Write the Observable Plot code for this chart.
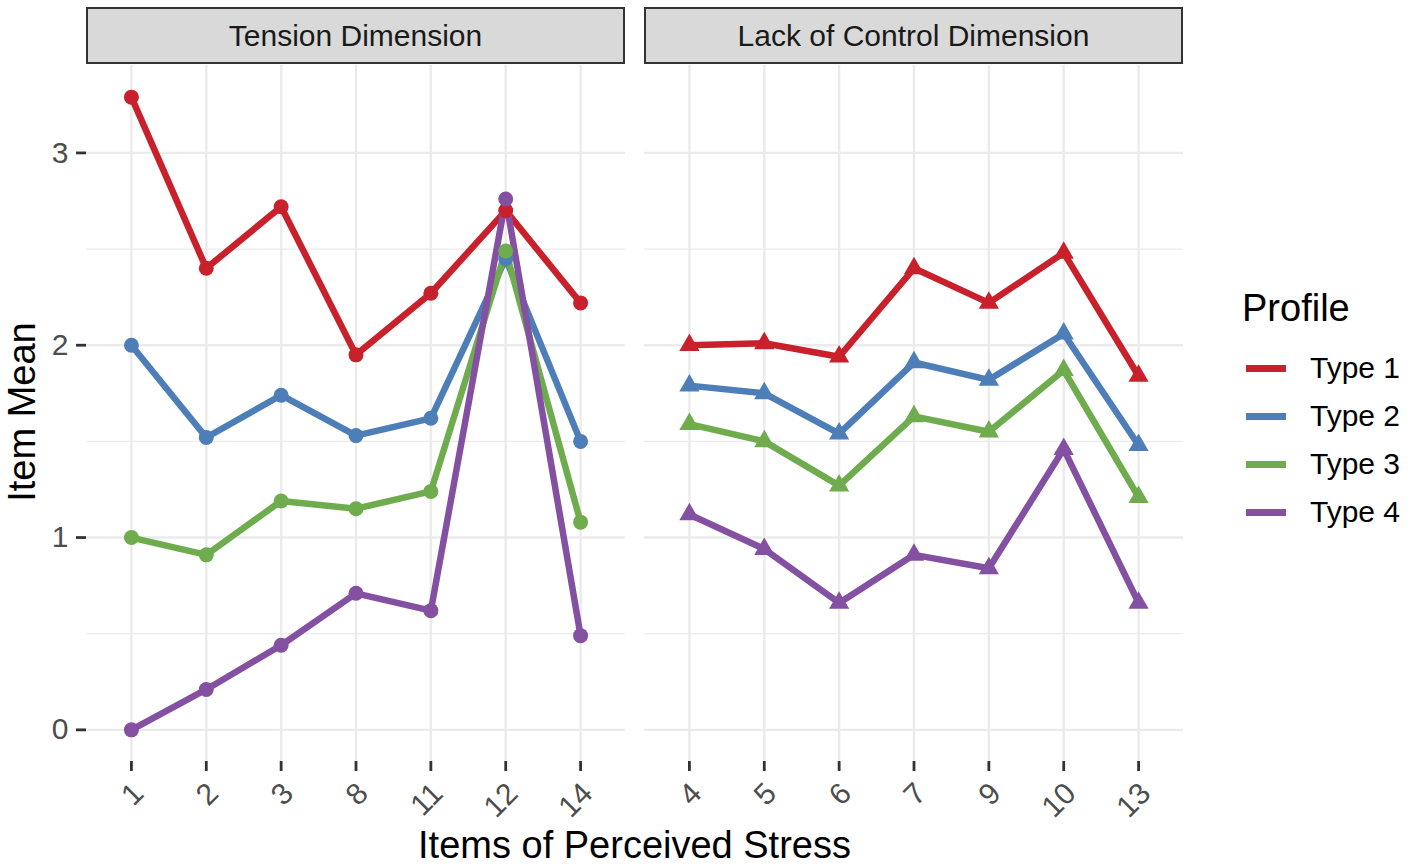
<!DOCTYPE html>
<html>
<head>
<meta charset="utf-8">
<script src="https://cdn.jsdelivr.net/npm/d3@7"></script>
<script src="https://cdn.jsdelivr.net/npm/@observablehq/plot@0.6"></script>
<style>
  body { margin: 0; background: #ffffff; }
  #root { position: relative; width: 1409px; height: 866px; font-family: "Liberation Sans", Arial, sans-serif; overflow: hidden; }
  .strip { position: absolute; top: 7px; height: 57px; width: 539px; box-sizing: border-box; background: #d9d9d9; border: 2.5px solid #333333; color: #1a1a1a; font-size: 30px; display: flex; align-items: center; justify-content: center; }
  .legrow { position: absolute; left: 1246px; height: 40px; display: flex; align-items: center; }
  .legkey { width: 40px; height: 7px; }
  .leglab { margin-left: 24px; font-size: 30px; color: #000; }
</style>
</head>
<body>
<div id="root"></div>
<script>
// ---- data ----
const tensionItems = ["1", "2", "3", "8", "11", "12", "14"];
const controlItems = ["4", "5", "6", "7", "9", "10", "13"];
const types = ["Type 1", "Type 2", "Type 3", "Type 4"];
const typeColors = ["#c9212b", "#4e7eb8", "#6fac4e", "#8450a2"];
const tension1 = [3.29, 2.40, 2.72, 1.95, 2.27, 2.70, 2.22];
const tension2 = [2.00, 1.52, 1.74, 1.53, 1.62, 2.45, 1.50];
const tension3 = [1.00, 0.91, 1.19, 1.15, 1.24, 2.49, 1.08];
const tension4 = [0.00, 0.21, 0.44, 0.71, 0.62, 2.76, 0.49];
const control1 = [2.00, 2.01, 1.94, 2.40, 2.22, 2.48, 1.84];
const control2 = [1.79, 1.75, 1.54, 1.91, 1.82, 2.06, 1.48];
const control3 = [1.59, 1.50, 1.27, 1.63, 1.55, 1.87, 1.21];
const control4 = [1.12, 0.94, 0.66, 0.91, 0.84, 1.46, 0.66];
const yTicks = [0, 1, 2, 3];
const yMinor = [0.5, 1.5, 2.5];
const panelTitles = ["Tension Dimension", "Lack of Control Dimension"];
const xTitle = "Items of Perceived Stress";
const yTitle = "Item Mean";
const legendTitle = "Profile";

function buildRows(items, seriesList) {
  const rows = [];
  seriesList.forEach((vals, t) => {
    items.forEach((it, i) => rows.push({ item: it, type: types[t], value: vals[i] }));
  });
  return rows;
}
const tensionRows = buildRows(tensionItems, [tension1, tension2, tension3, tension4]);
const controlRows = buildRows(controlItems, [control1, control2, control3, control4]);

const allVals = tensionRows.concat(controlRows).map(d => d.value);
const yMin = d3.min(allVals), yMax = d3.max(allVals);
const ex = (yMax - yMin) * 0.05;
const yDomain = [yMin - ex, yMax + ex];

function panel(items, rows, symbol, withYAxis, mLeft) {
  return Plot.plot({
    width: mLeft + 539 + 10,
    height: 866,
    marginLeft: mLeft,
    marginRight: 10,
    marginTop: 65,
    marginBottom: 105,
    style: { fontFamily: "Liberation Sans, Arial, sans-serif", background: "transparent", overflow: "visible" },
    x: { type: "point", domain: items, padding: 0.6, round: false, label: null, axis: null },
    y: { domain: yDomain, label: null, axis: null },
    color: { domain: types, range: typeColors },
    marks: [
      Plot.gridY(yMinor, { stroke: "#ebebeb", strokeOpacity: 1, strokeWidth: 1.2 }),
      Plot.gridY(yTicks, { stroke: "#ebebeb", strokeOpacity: 1, strokeWidth: 2.4 }),
      Plot.gridX(items, { stroke: "#ebebeb", strokeOpacity: 1, strokeWidth: 2.4 }),
      Plot.line(rows, { x: "item", y: "value", z: "type", stroke: "type", strokeWidth: 6.5, strokeLinejoin: "round", strokeLinecap: "butt" }),
      Plot.dot(rows, { x: "item", y: "value", fill: "type", r: 7.5, symbol: symbol }),
      Plot.axisX(items, { anchor: "bottom", tickSize: 10, text: null, stroke: "#333333", strokeWidth: 2.8 }),
      Plot.text(items, { x: d => d, frameAnchor: "bottom", rotate: -45, textAnchor: "end", lineAnchor: "middle", dx: 7, dy: 27, fontSize: 30, fill: "#4d4d4d" }),
      ...(withYAxis ? [Plot.axisY(yTicks, { anchor: "left", tickSize: 10, tickPadding: 8, stroke: "#333333", strokeWidth: 2.8, fill: "#4d4d4d", fontSize: 30, tickFormat: d => String(d) })] : [])
    ]
  });
}

const root = document.getElementById("root");

const left = panel(tensionItems, tensionRows, "circle", true, 86);
left.style.position = "absolute"; left.style.left = "0px"; left.style.top = "0px";
root.appendChild(left);

const right = panel(controlItems, controlRows, "triangle", false, 10);
right.style.position = "absolute"; right.style.left = "634px"; right.style.top = "0px";
root.appendChild(right);

// strips
[[86, panelTitles[0]], [644, panelTitles[1]]].forEach(([x, t]) => {
  const s = document.createElement("div");
  s.className = "strip"; s.style.left = x + "px"; s.textContent = t;
  root.appendChild(s);
});

// axis titles
const xt = document.createElement("div");
xt.style.cssText = "position:absolute;left:0px;width:1269px;top:828px;line-height:0.9;text-align:center;font-size:38px;color:#000;white-space:nowrap;";
xt.textContent = xTitle;
root.appendChild(xt);

const yt = document.createElement("div");
yt.style.cssText = "position:absolute;left:22px;top:412px;line-height:1;font-size:38px;color:#000;white-space:nowrap;transform:translate(-50%,-50%) rotate(-90deg);";
yt.textContent = yTitle;
root.appendChild(yt);

// legend
const lt = document.createElement("div");
lt.style.cssText = "position:absolute;left:1242px;top:287px;font-size:38px;color:#000;white-space:nowrap;";
lt.textContent = legendTitle;
root.appendChild(lt);
const legY = [368, 416, 464, 512];
types.forEach((t, i) => {
  const row = document.createElement("div");
  row.className = "legrow";
  row.style.top = (legY[i] - 20) + "px";
  const k = document.createElement("div");
  k.className = "legkey"; k.style.background = typeColors[i];
  const l = document.createElement("div");
  l.className = "leglab"; l.textContent = t;
  row.appendChild(k); row.appendChild(l);
  root.appendChild(row);
});
</script>
</body>
</html>
